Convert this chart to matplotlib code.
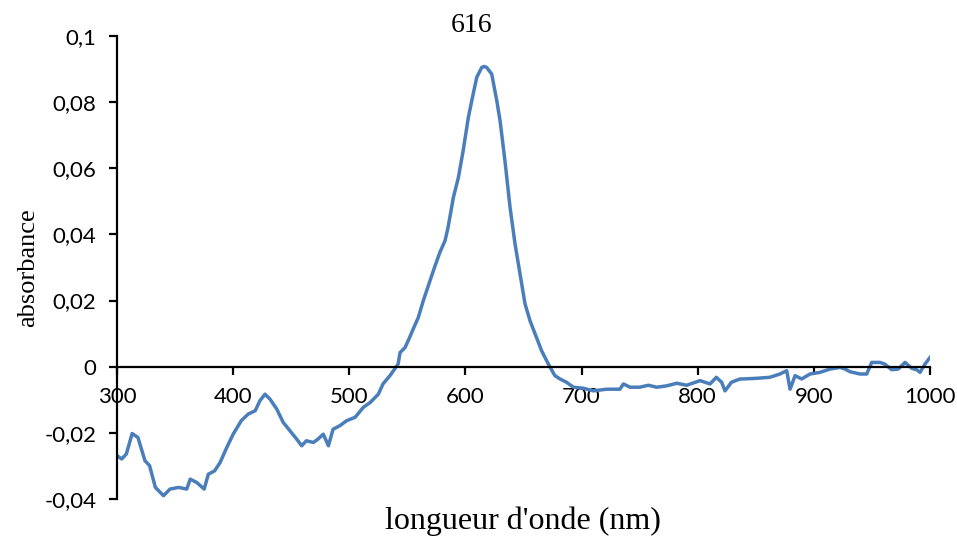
import numpy as np
import matplotlib
matplotlib.use('Agg')
import matplotlib.pyplot as plt

# ── Data ──────────────────────────────────────────────────────────────────────
wavelength = [300, 304, 308, 313, 318, 324, 328, 333, 340, 345.6, 353, 360, 363,
              368.6, 375, 378.6, 384, 388.7, 394.5, 400, 407, 413, 419, 423,
              427.4, 431.7, 437.5, 443, 449, 454.7, 459, 463, 469, 473, 477.6,
              482, 486, 492, 497.8, 505, 512, 518, 525, 529, 535, 538, 542,
              543.7, 548, 552, 555, 559.4, 563.7, 569.5, 573.8, 578, 582.4,
              585, 589.6, 593.9, 598, 602.5, 605.4, 609.7, 614, 616, 618.3,
              622.6, 627, 629.8, 634, 638.4, 642.7, 647, 651.3, 655.6, 660,
              665.6, 671.4, 677, 681.4, 687, 693, 701.5, 710, 721.6, 733, 736,
              741.7, 750, 757.5, 764.7, 773, 782, 790.5, 802, 810.6, 816, 820.6,
              823.5, 829, 836.4, 839, 850.8, 862, 870.8, 876.6, 879.5, 883.8,
              889.5, 896.7, 905.3, 914, 922.5, 926.8, 931, 939.7, 945.5, 949.8,
              957, 961, 967, 972.7, 978.5, 984.3, 988.5, 991.4, 995.7, 1000]
absorbance = [-0.0269, -0.0279, -0.0264, -0.0202, -0.0214, -0.0284, -0.0299,
              -0.0365, -0.0390, -0.0370, -0.0365, -0.0370, -0.0340, -0.0350,
              -0.0370, -0.0325, -0.0315, -0.0290, -0.0244, -0.0204, -0.0163,
              -0.0143, -0.0133, -0.0103, -0.0083, -0.0098, -0.0128, -0.0168,
              -0.0194, -0.0219, -0.0239, -0.0224, -0.0229, -0.0219, -0.0204,
              -0.0239, -0.0189, -0.0178, -0.0163, -0.0153, -0.0123, -0.0108,
              -0.0083, -0.0052, -0.0027, -0.0012, 0.0008, 0.0043, 0.0058,
              0.0089, 0.0114, 0.0149, 0.0200, 0.0260, 0.0305, 0.0346, 0.0381,
              0.0421, 0.0512, 0.0572, 0.0653, 0.0754, 0.0804, 0.0875, 0.0905,
              0.0908, 0.0905, 0.0885, 0.0804, 0.0744, 0.0623, 0.0482, 0.0371,
              0.0280, 0.0190, 0.0139, 0.0099, 0.0048, 0.0008, -0.0027, -0.0037,
              -0.0047, -0.0062, -0.0065, -0.0073, -0.0068, -0.0068, -0.0052,
              -0.0062, -0.0062, -0.0056, -0.0062, -0.0058, -0.0050, -0.0056,
              -0.0042, -0.0052, -0.0032, -0.0047, -0.0073, -0.0047, -0.0037,
              -0.0037, -0.0035, -0.0032, -0.0022, -0.0012, -0.0068, -0.0027,
              -0.0037, -0.0022, -0.0017, -0.0007, -0.0002, -0.0007, -0.0015,
              -0.0022, -0.0022, 0.0013, 0.0013, 0.0008, -0.0009, -0.0007,
              0.0013, -0.0005, -0.0009, -0.0017, 0.0008, 0.0028]

peak_label = "616"
peak_x, peak_y = 605, 0.1031

xticks = [300, 400, 500, 600, 700, 800, 900, 1000]
xtick_labels = ["300", "400", "500", "600", "700", "800", "900", "1000"]
yticks = [-0.04, -0.02, 0, 0.02, 0.04, 0.06, 0.08, 0.1]
ytick_labels = ["-0,04", "-0,02", "0", "0,02", "0,04", "0,06", "0,08", "0,1"]

# ── Plot ──────────────────────────────────────────────────────────────────────
fig = plt.figure(figsize=(9.57, 5.38), dpi=100)
ax = fig.add_axes([0.1223, 0.0725, 0.8495, 0.8605])

ax.plot(wavelength, absorbance, color='#4a7ebb', lw=2.5, solid_joinstyle='round')

ax.set_xlim(300, 1000)
ax.set_ylim(-0.04, 0.1)

for s in ['top', 'right']:
    ax.spines[s].set_visible(False)
ax.spines['bottom'].set_position(('data', 0))
ax.spines['left'].set_linewidth(1.6)
ax.spines['bottom'].set_linewidth(1.6)

ax.set_xticks(xticks)
ax.set_xticklabels(xtick_labels, fontfamily='Lato', fontsize=16)
ax.set_yticks(yticks)
ax.set_yticklabels(ytick_labels, fontfamily='Lato', fontsize=16)
ax.tick_params(axis='x', direction='out', length=5.5, width=1.6, pad=9)
ax.tick_params(axis='y', direction='out', length=6, width=1.6, pad=9)

ax.set_ylabel("absorbance", fontfamily='Liberation Serif', fontsize=19, labelpad=4)
fig.text(0.5465, 0.031, "longueur d'onde (nm)", fontfamily='Liberation Serif',
         fontsize=23, ha='center', va='center')

ax.text(peak_x, peak_y, peak_label, fontfamily='Liberation Serif', fontsize=20,
        ha='center', va='center', clip_on=False)

fig.savefig('out.png', dpi=100)
